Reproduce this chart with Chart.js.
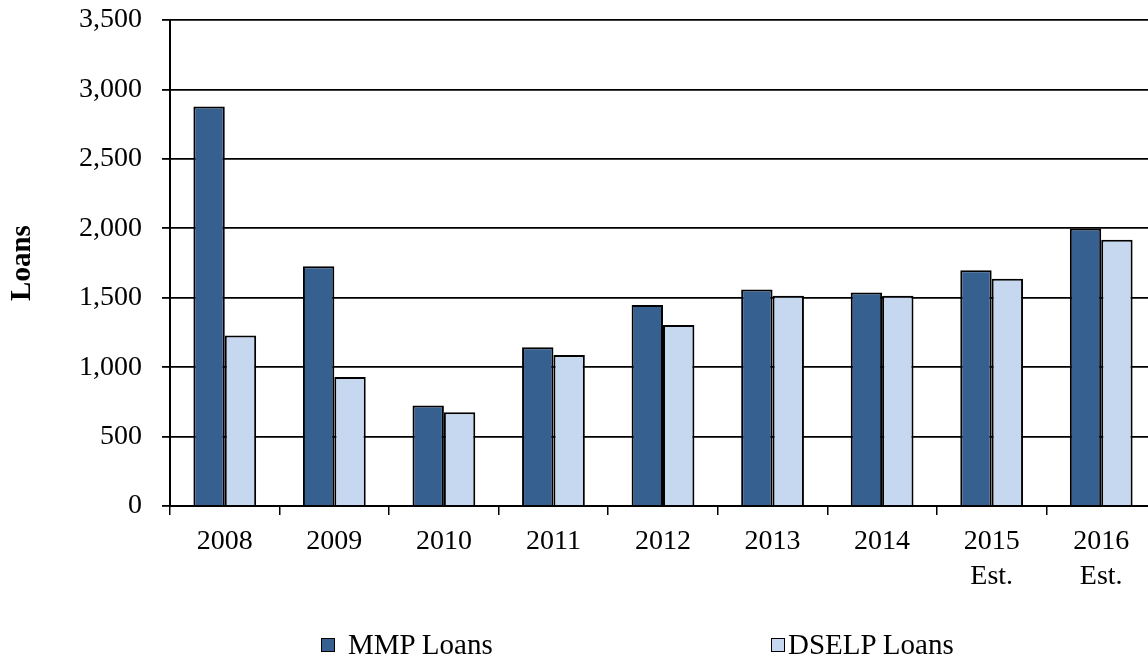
<!DOCTYPE html>
<html>
<head>
<meta charset="utf-8">
<script src="https://cdn.jsdelivr.net/npm/chart.js@4/dist/chart.umd.min.js"></script>
<style>
  html, body { margin: 0; padding: 0; background: #fff; overflow: hidden; width: 1148px; height: 658px; }
  #wrap { position: absolute; left: 0; top: 0; width: 1160px; height: 658px; }
  .leg { position: absolute; top: 632px; font-family: "Liberation Serif", "Times New Roman", serif; font-size: 29px; color: #000; line-height: 24px; white-space: nowrap; }
  .leg .box { position: absolute; top: 6px; width: 12px; height: 12px; border: 1.5px solid #000; box-sizing: content-box; }
  .leg .txt { position: absolute; top: 0; }
</style>
</head>
<body>
<div id="wrap"><canvas id="c"></canvas></div>
<div id="legend"></div>
<script>
const categories = [["2008"], ["2009"], ["2010"], ["2011"], ["2012"], ["2013"], ["2014"], ["2015", "Est."], ["2016", "Est."]];
const seriesNames = ["MMP Loans", "DSELP Loans"];
const mmpLoans = [2877, 1727, 723, 1144, 1448, 1559, 1537, 1698, 1998];
const dselpLoans = [1227, 929, 675, 1088, 1304, 1515, 1515, 1636, 1917];
const seriesColors = ["#36608F", "#C6D8EF"];
const yTicks = [0, 500, 1000, 1500, 2000, 2500, 3000, 3500];
const yTitle = "Loans";

const FONT = "'Liberation Serif', 'Times New Roman', serif";

new Chart(document.getElementById('c'), {
  type: 'bar',
  data: {
    labels: categories,
    datasets: [
      { label: seriesNames[0], data: mmpLoans, backgroundColor: seriesColors[0], borderColor: '#000', borderWidth: 2, barPercentage: 1, categoryPercentage: 0.573 },
      { label: seriesNames[1], data: dselpLoans, backgroundColor: seriesColors[1], borderColor: '#000', borderWidth: 2, barPercentage: 1, categoryPercentage: 0.573 }
    ]
  },
  options: {
    responsive: true,
    maintainAspectRatio: false,
    animation: false,
    devicePixelRatio: 1,
    layout: { padding: { top: 20, right: 4, bottom: 52, left: 0 } },
    plugins: { legend: { display: false }, tooltip: { enabled: false } },
    scales: {
      x: {
        grid: { offset: true, drawOnChartArea: false, drawTicks: true, tickLength: 9, color: '#000', lineWidth: 1.5 },
        border: { display: true, color: '#000', width: 2 },
        ticks: { color: '#000', font: { family: FONT, size: 28, lineHeight: 1.25 }, padding: 9, maxRotation: 0, autoSkip: false },
        afterFit: (s) => { s.height = 100; s.paddingLeft = 0; s.paddingRight = 0; }
      },
      y: {
        min: 0, max: 3500,
        afterBuildTicks: (s) => { s.ticks = yTicks.map(v => ({ value: v })); },
        grid: { color: '#000', lineWidth: 1.8, tickLength: 8, drawTicks: true },
        border: { display: true, color: '#000', width: 2 },
        ticks: { color: '#000', font: { family: FONT, size: 28 }, padding: 20,
          callback: (v) => v.toLocaleString('en-US') },
        title: { display: true, text: yTitle, color: '#000', font: { family: FONT, size: 29, weight: 'bold', lineHeight: 1.2 }, padding: { top: 5, bottom: 0 } },
        afterFit: (s) => { s.width = 170; s.paddingTop = 0; s.paddingBottom = 0; }
      }
    }
  }
});

// HTML legend
const legendPos = [{ box: 321, txt: 348 }, { box: 771, txt: 788 }];
const legEl = document.getElementById('legend');
seriesNames.forEach((name, i) => {
  const item = document.createElement('div');
  item.className = 'leg';
  item.style.left = '0px';
  const b = document.createElement('span');
  b.className = 'box';
  b.style.left = legendPos[i].box + 'px';
  b.style.background = seriesColors[i];
  const t = document.createElement('span');
  t.className = 'txt';
  t.style.left = legendPos[i].txt + 'px';
  t.textContent = name;
  item.appendChild(b);
  item.appendChild(t);
  legEl.appendChild(item);
});
</script>
</body>
</html>
